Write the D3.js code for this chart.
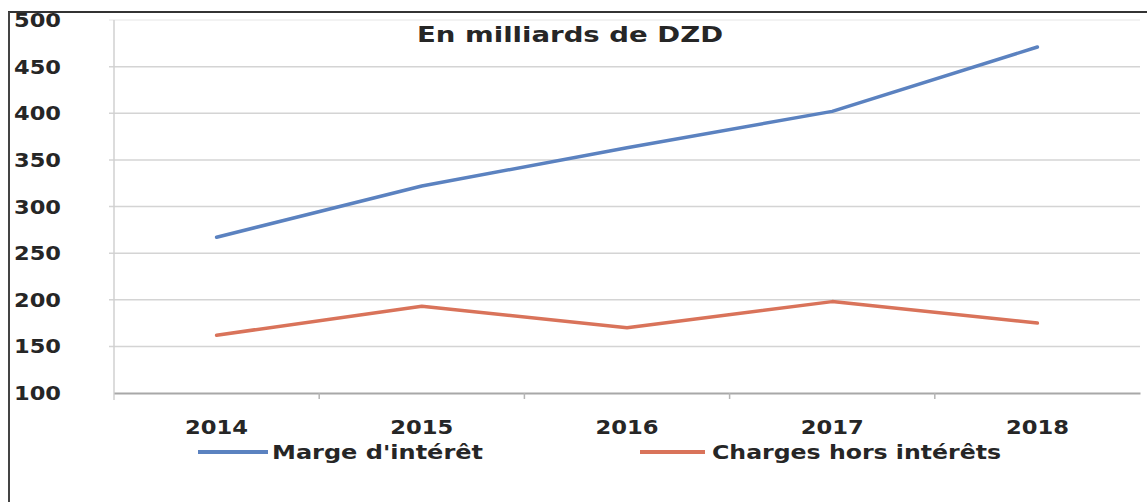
<!DOCTYPE html>
<html>
<head>
<meta charset="utf-8">
<script src="https://cdn.jsdelivr.net/npm/d3@7"></script>
<style>
  body { margin: 0; background: #fff; }
  text { font-family: "DejaVu Sans", Verdana, sans-serif; font-weight: bold; fill: #262626; }
</style>
</head>
<body>
<script>
// Data
var years = ["2014", "2015", "2016", "2017", "2018"];
var marge = [267, 322, 363, 402, 471];
var charges = [162, 193, 170, 198, 175];
var yTicks = [100, 150, 200, 250, 300, 350, 400, 450, 500];
var seriesNames = ["Marge d'intérêt", "Charges hors intérêts"];
var colors = ["#5b82c0", "#d9735a"];

var width = 1147, height = 502;

var svg = d3.select("body").append("svg")
	.attr("width", width)
	.attr("height", height);

svg.append("rect").attr("width", width).attr("height", height).attr("fill", "#fff");

// outer frame (top + left only, as in the scan)
svg.append("line").attr("x1", 8).attr("x2", width).attr("y1", 12).attr("y2", 12)
	.attr("stroke", "#333").attr("stroke-width", 2);
svg.append("line").attr("x1", 9).attr("x2", 9).attr("y1", 12).attr("y2", height)
	.attr("stroke", "#444").attr("stroke-width", 2);

// scales
var x = d3.scaleBand()
	.domain(years)
	.range([114, 1140]);

var y = d3.scaleLinear()
	.domain([100, 500])
	.range([393, 20]);

// gridlines
svg.append("g")
	.selectAll("line")
	.data(yTicks.slice(1))
	.enter().append("line")
	.attr("x1", 109)
	.attr("x2", 1140)
	.attr("y1", function(d) { return y(d); })
	.attr("y2", function(d) { return y(d); })
	.attr("stroke", function(d) { return d === 500 ? "#eeeeee" : "#d4d4d4"; })
	.attr("stroke-width", 1.5);

// y axis line
svg.append("line")
	.attr("x1", 114).attr("x2", 114)
	.attr("y1", y(500)).attr("y2", 400)
	.attr("stroke", "#d0d0d0").attr("stroke-width", 1.5);

// y labels
svg.append("g")
	.selectAll("text")
	.data(yTicks)
	.enter().append("text")
	.attr("x", 14)
	.attr("y", function(d) { return y(d) + 7; })
	.attr("font-size", 19)
	.attr("textLength", 47)
	.attr("lengthAdjust", "spacingAndGlyphs")
	.text(function(d) { return d; });

// x axis
var xAxis = d3.axisBottom(x).tickSize(0).tickFormat("");
svg.append("g")
	.attr("transform", "translate(0," + y(100) + ")")
	.call(xAxis)
	.call(function(g) {
		g.select(".domain").attr("stroke", "#a8a8a8").attr("stroke-width", 2);
	});

// tick marks at band boundaries
var bounds = years.slice(1).map(function(d) { return x(d); });
svg.append("g")
	.selectAll("line")
	.data(bounds)
	.enter().append("line")
	.attr("x1", function(d) { return d; })
	.attr("x2", function(d) { return d; })
	.attr("y1", y(100))
	.attr("y2", y(100) + 6)
	.attr("stroke", "#b5b5b5").attr("stroke-width", 1.5);

// year labels
svg.append("g")
	.selectAll("text")
	.data(years)
	.enter().append("text")
	.attr("x", function(d) { return x(d) + x.bandwidth() / 2; })
	.attr("y", 434)
	.attr("text-anchor", "middle")
	.attr("font-size", 19)
	.attr("textLength", 63)
	.attr("lengthAdjust", "spacingAndGlyphs")
	.text(function(d) { return d; });

// lines
var line = d3.line()
	.x(function(d, i) { return x(years[i]) + x.bandwidth() / 2; })
	.y(function(d) { return y(d); });

[marge, charges].forEach(function(s, i) {
	svg.append("path")
		.datum(s)
		.attr("fill", "none")
		.attr("stroke", colors[i])
		.attr("stroke-width", 3.5)
		.attr("stroke-linejoin", "round")
		.attr("stroke-linecap", "round")
		.attr("d", line);
});

// title
svg.append("text")
	.attr("x", 417)
	.attr("y", 42)
	.attr("font-size", 21)
	.attr("textLength", 306)
	.attr("lengthAdjust", "spacingAndGlyphs")
	.text("En milliards de DZD");

// legend
var legend = [
	{ x1: 198, x2: 268, tx: 272, tw: 211 },
	{ x1: 640, x2: 705, tx: 712, tw: 289 }
];
legend.forEach(function(l, i) {
	svg.append("line")
		.attr("x1", l.x1).attr("x2", l.x2)
		.attr("y1", 452).attr("y2", 452)
		.attr("stroke", colors[i]).attr("stroke-width", 4);
	svg.append("text")
		.attr("x", l.tx)
		.attr("y", 459)
		.attr("font-size", 19)
		.attr("textLength", l.tw)
		.attr("lengthAdjust", "spacingAndGlyphs")
		.text(seriesNames[i]);
});
</script>
</body>
</html>
